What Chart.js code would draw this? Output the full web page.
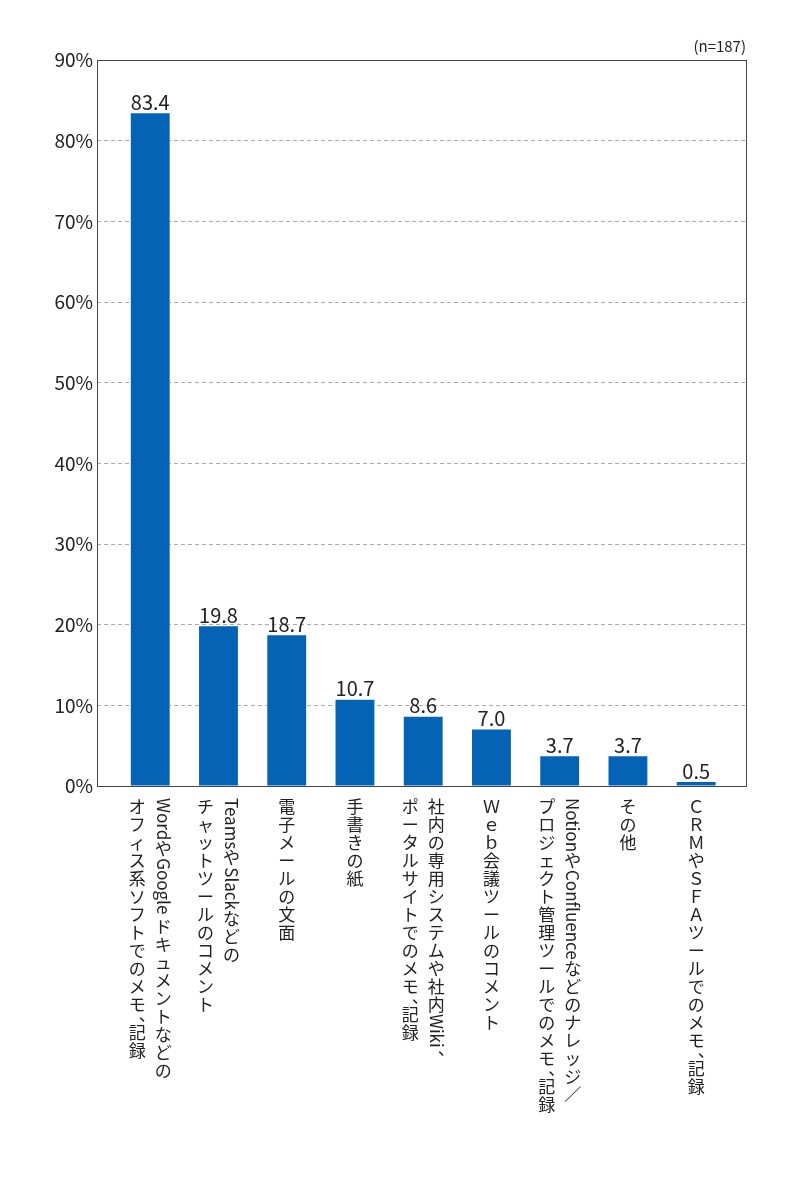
<!DOCTYPE html>
<html><head><meta charset="utf-8">
<script src="https://cdn.jsdelivr.net/npm/chart.js@4"></script>
<style>body{margin:0;background:#fff}canvas{display:block}</style>
</head><body>
<canvas id="c" width="803" height="1200"></canvas>
<script>
const categories = [
  ["WordやGoogle ドキュメントなどの","オフィス系ソフトでのメモ、記録"],
  ["TeamsやSlackなどの","チャットツールのコメント"],
  ["電子メールの文面"],
  ["手書きの紙"],
  ["社内の専用システムや社内Wiki、","ポータルサイトでのメモ、記録"],
  ["Ｗｅｂ会議ツールのコメント"],
  ["NotionやConfluenceなどのナレッジ／","プロジェクト管理ツールでのメモ、記録"],
  ["その他"],
  ["ＣＲＭやＳＦＡツールでのメモ、記録"]
];
const values = [83.4, 19.8, 18.7, 10.7, 8.6, 7.0, 3.7, 3.7, 0.5];
const yTicks = [0,10,20,30,40,50,60,70,80,90];
const FONT = '"Noto Sans CJK JP","Noto Sans",sans-serif';

const deco = {
  id:'deco',
  afterDraw(chart){
    const ctx = chart.ctx, a = chart.chartArea, xs = chart.scales.x;
    ctx.save();
    ctx.strokeStyle = '#444'; ctx.lineWidth = 1;
    ctx.strokeRect(a.left+0.5, a.top+0.5, a.right-a.left, a.bottom-a.top);
    ctx.fillStyle = '#222';
    ctx.font = '15px '+FONT; ctx.textAlign='right'; ctx.textBaseline='bottom';
    ctx.fillText('(n=187)', a.right, a.top-6);
    ctx.font = '20px '+FONT; ctx.textAlign='center'; ctx.textBaseline='bottom';
    chart.getDatasetMeta(0).data.forEach((b,i)=>{
      ctx.fillText(values[i].toFixed(1), b.x, b.y-1);
    });
    ctx.font = '17px '+FONT;
    categories.forEach((lines,i)=>{
      const cx = xs.getPixelForValue(i);
      const n = lines.length;
      lines.forEach((line,j)=>{
        const x = cx + (n===1 ? 0 : (j===0 ? 13 : -13));
        let y = a.bottom + 12;
        const chars = Array.from(line);
        let k = 0;
        while(k<chars.length){
          const c = chars[k];
          if(/[\x20-\x7e]/.test(c)){
            let run='';
            while(k<chars.length && /[\x20-\x7e]/.test(chars[k])){run+=chars[k];k++;}
            const w = ctx.measureText(run).width;
            ctx.save(); ctx.translate(x,y); ctx.rotate(Math.PI/2);
            ctx.textAlign='left'; ctx.textBaseline='middle';
            ctx.fillText(run,0,0); ctx.restore();
            y += w;
          } else {
            ctx.textAlign='center'; ctx.textBaseline='top';
            if(c==='、'||c==='。'){ ctx.fillText(c, x+10, y-8); y += 10; }
            else { ctx.fillText(c, x, y); y += 18; }
            k++;
          }
        }
      });
    });
    ctx.restore();
  }
};

new Chart(document.getElementById('c'), {
  type:'bar',
  data:{datasets:[{data:values.map((v,i)=>({x:i,y:v})), backgroundColor:'#0563b5', barPercentage:0.78, categoryPercentage:1}]},
  options:{
    responsive:false, animation:false,
    layout:{padding:{top:60,right:57,bottom:0,left:0}},
    plugins:{legend:{display:false},tooltip:{enabled:false}},
    scales:{
      x:{type:'linear', min:-0.78, max:8.73, offset:false,
         ticks:{display:false}, grid:{display:false}, border:{display:false},
         afterFit(s){s.height=414;}},
      y:{min:0,max:90,
         afterBuildTicks(s){s.ticks=yTicks.map(v=>({value:v}));},
         ticks:{callback:v=>v+'%', color:'#222', font:{size:19,family:FONT}, padding:4},
         grid:{color:'#aaa', drawTicks:false}, border:{display:false, dash:[4,3]},
         afterFit(s){s.width=97;}}
    }
  },
  plugins:[deco]
});
</script>
</body></html>
